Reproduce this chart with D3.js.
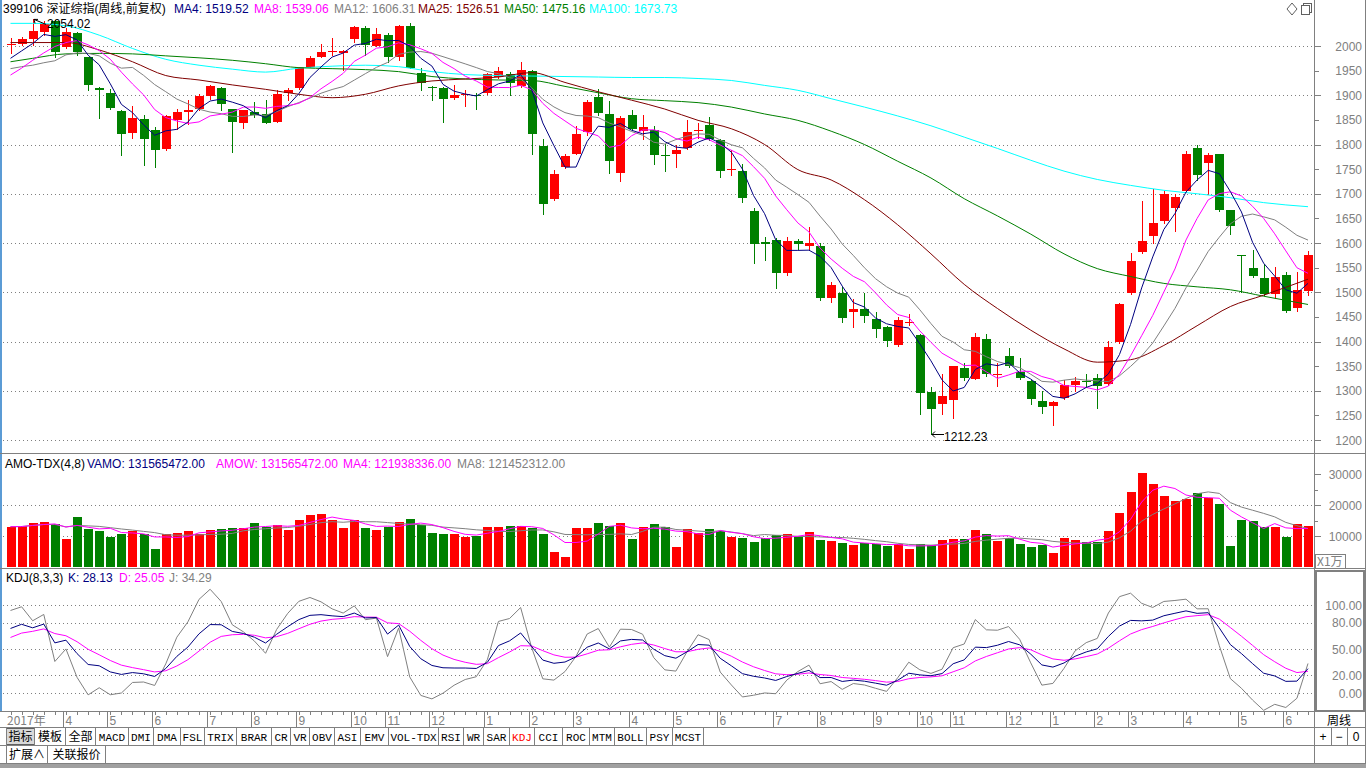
<!DOCTYPE html>
<html><head><meta charset="utf-8">
<script src="https://cdn.jsdelivr.net/npm/d3@7"></script>
<style>
body{margin:0;background:#fff;overflow:hidden}
svg{display:block}
text{font-family:'Liberation Sans',Arial,'Noto Sans CJK SC',sans-serif;font-size:12px}
.cjk{font-family:'Noto Sans CJK SC','Liberation Sans',sans-serif}
.mono{font-family:'Liberation Mono','DejaVu Sans Mono',monospace;font-size:11px}
</style>
</head><body>
<svg id="c" width="1366" height="768"></svg>
<script>
// ---------------- DATA (weekly, 399106 深证综指) ----------------
const opens=[2003,2005,2014,2028,2050,1997,2026,1977,1915,1904,
1868,1823,1851,1829,1791,1849,1866,1872,1899,1915,
1872,1844,1867,1861,1846,1905,1915,1957,1978,1988,
1986,2014,2037,2001,2023,1978,2041,1945,1917,1915,
1895,1900,1901,1905,1937,1944,1918,1949,1797,1689,
1754,1781,1825,1896,1861,1742,1859,1827,1829,1778,
1780,1793,1828,1839,1809,1749,1747,1665,1602,1606,
1540,1604,1594,1594,1488,1498,1460,1465,1445,1429,
1393,1437,1413,1297,1273,1281,1347,1324,1406,1334,
1370,1339,1320,1279,1269,1286,1311,1320,1325,1314,
1398,1498,1581,1615,1645,1672,1706,1793,1762,1780,
1666,1575,1550,1529,1497,1535,1468,1503];
const highs=[2016,2018,2054.02,2050,2052,2036,2028,1978,1916,1912,
1870,1879,1859,1836,1859,1872,1891,1903,1920,1917,
1873,1871,1886,1890,1910,1914,1958,1979,2004,2016,
1992,2041,2040,2037,2026,2043,2046,1955,1919,1917,
1920,1910,1904,1945,1958,1948,1968,1952,1812,1749,
1780,1837,1890,1912,1888,1857,1870,1859,1837,1802,
1798,1849,1844,1856,1811,1788,1761,1672,1612,1610,
1612,1609,1632,1600,1520,1510,1487,1498,1460,1432,
1450,1455,1415,1307,1333,1350,1357,1418,1415,1357,
1387,1367,1322,1299,1280,1321,1328,1333,1333,1402,
1478,1580,1685,1710,1706,1700,1786,1800,1782,1781,
1668,1576,1586,1557,1552,1542,1542,1583];
const lows=[1986,2002,2003,2022,1977,1995,1982,1910,1854,1873,
1779,1813,1758,1754,1789,1832,1842,1871,1893,1871,
1785,1834,1856,1843,1845,1890,1913,1957,1977,1981,
1952,2009,1982,1999,1968,1971,1956,1910,1890,1845,
1893,1878,1872,1903,1935,1900,1917,1780,1658,1687,
1752,1780,1820,1860,1742,1725,1830,1812,1760,1747,
1754,1790,1813,1810,1734,1738,1684,1559,1565,1509,
1535,1588,1585,1485,1480,1440,1430,1440,1410,1391,
1390,1434,1253,1212.23,1253,1244,1321,1323,1330,1309,
1348,1324,1273,1255,1231,1284,1299,1307,1265,1312,
1396,1496,1579,1601,1640,1624,1704,1727,1700,1664,
1618,1500,1530,1494,1489,1459,1461,1495];
const closes=[2004,2014,2031,2045,1988,2028,1988,1921,1910,1874,
1821,1854,1811,1789,1857,1866,1870,1899,1918,1882,
1845,1870,1859,1844,1902,1910,1957,1975,1988,1990,
1990,2039,2002,2024,1978,2041,1956,1925,1915,1892,
1901,1902,1899,1943,1949,1924,1951,1821,1679,1740,
1776,1822,1887,1864,1766,1854,1832,1835,1779,1777,
1788,1825,1829,1812,1746,1751,1691,1598,1598,1539,
1605,1598,1600,1488,1514,1448,1466,1452,1425,1401,
1444,1440,1296,1263,1289,1350,1325,1409,1335,1335,
1350,1326,1284,1267,1277,1311,1320,1319,1309,1389,
1477,1564,1605,1641,1700,1693,1780,1739,1778,1666,
1635,1573,1532,1496,1530,1462,1504,1576];
// turnover, unit: 万 (x10000)
const volumes=[13000,13100,14100,14600,13800,9030,16200,12260,11700,9780,
10750,11700,10540,5800,10750,11000,11700,10650,11930,12260,
12580,12580,14100,13000,13550,11930,15160,16900,17200,15160,
12580,15160,12690,11930,13000,14630,15480,13550,11080,10650,
10650,9780,10110,13000,13000,13200,13200,12580,10750,4940,
3330,12580,12580,14100,13200,14100,9030,13000,13880,13000,
6450,12250,11080,12250,11600,9780,9460,8170,9240,10320,
10640,9570,11400,8710,8390,7850,7100,7640,7420,6780,
7310,5810,7310,6990,8710,9030,8920,11930,10640,8390,
9460,7420,6560,7100,4620,9460,8710,8170,8170,11600,
17530,24200,30430,26880,22800,21180,22040,23970,22260,20430,
6670,15270,14730,13000,13000,9780,13760,13157];

// values of the short MAs before enough weeks are on screen
const ma4Lead=[1975,1990,2005];
const ma8Lead=[1941,1955,1971,1986,1999,2007,2011];
const ma12Lead=[1954,1958,1961,1966,1970,1982,1986,1985,1980,1965,1955];
// long MAs at sample weeks
const maIdx=[0,2,5,8,11,14,17,20,23,26,29,32,35,38,41,44,47,50,53,56,59,62,65,68,71,74,77,80,83,86,89,92,95,98,101,104,107,110,113,117];
const ma25Vals=[2007,2007,2007,1992,1968,1940,1931,1921,1912,1902,1895,1902,1919,1929,1933,1937,1946,1926,1907,1890,1872,1849,1832,1800,1749,1728,1688,1637,1578,1516,1467,1423,1385,1358,1363,1392,1432,1471,1494,1526.51];
const ma50Vals=[1968,1975,1984,1985,1984,1980,1976,1971,1964,1956,1954,1952,1948,1938,1933,1931,1930,1918,1905,1893,1889,1885,1876,1862,1849,1827,1800,1766,1732,1690,1655,1618,1578,1548,1532,1518,1511,1505,1492,1475.16];
const ma100Vals=[2046,2046,2041,2022,1995,1973,1961,1953,1947,1955,1959,1961,1958,1948,1942,1940,1939,1938,1937,1936,1936,1934,1930,1920,1910,1893,1876,1858,1838,1815,1792,1768,1746,1729,1717,1707,1700,1692,1682,1673.73];
const kdjSeed=[80,58];

// axis / labels
const priceTicks=[1200,1250,1300,1350,1400,1450,1500,1550,1600,1650,1700,1750,1800,1850,1900,1950,2000];
const volTicks=[10000,20000,30000];
const kdjTicks=[0,20,50,80,100];
const monthStart=[5,9,13,18,22,26,31,34,38,43,47,51,56,60,64,69,73,78,82,85,90,94,98,101,106,111,115];
const monthLabels=['4','5','6','7','8','9','10','11','12','1','2','3','4','5','6','7','8','9','10','11','12','1','2','3','4','5','6'];
const titleParts=[['399106 深证综指(周线,前复权)','#000000',3],['MA4: 1519.52','#000080',174],['MA8: 1539.06','#FF00FF',254],['MA12: 1606.31','#808080',334],['MA25: 1526.51','#800000',418],['MA50: 1475.16','#008000',504],['MA100: 1673.73','#00FFFF',589]];
const volParts=[['AMO-TDX(4,8)','#000000',5],['VAMO: 131565472.00','#000080',87],['AMOW: 131565472.00','#FF00FF',216],['MA4: 121938336.00','#FF00FF',343],['MA8: 121452312.00','#808080',457]];
const kdjParts=[['KDJ(8,3,3)','#000000',6],['K: 28.13','#000080',68],['D: 25.05','#FF00FF',119],['J: 34.29','#808080',169]];
const tabLabels=['指标','模板','全部','MACD','DMI','DMA','FSL','TRIX','BRAR','CR','VR','OBV','ASI','EMV','VOL-TDX','RSI','WR','SAR','KDJ','CCI','ROC','MTM','BOLL','PSY','MCST'];
const tabEdges=[6,34,65,95,128,153,180,204,236,271,290,309,334,360,388,438,463,483,509,534,562,589,614,646,672,703];
const tab2Labels=['扩展∧','关联报价'];
const tab2Edges=[6,47,105];

// ---------------- DRAW ----------------
const N=closes.length;
const svg=d3.select('#c');
const G='#808080';
const x=d3.scaleLinear().domain([0,N-1]).range([10.5,1308]);
const yP=d3.scaleLinear().domain([1200,2000]).range([440,46]);
const yV=d3.scaleLinear().domain([0,30000]).range([567,474]);
const yK=d3.scaleLinear().domain([0,100]).range([693,605]);
const AX=1314.5;

const defs=svg.append('defs');
function clip(id,x0,y0,w,h){defs.append('clipPath').attr('id',id).append('rect').attr('x',x0).attr('y',y0).attr('width',w).attr('height',h);}
clip('cm',3,16,1311,437);clip('cv',3,470,1311,98);clip('ck',3,586,1311,125);

// frame lines
const fr=svg.append('g').attr('shape-rendering','crispEdges');
fr.append('rect').attr('x',0).attr('y',0).attr('width',2).attr('height',711).attr('fill','#5b9bd5');
[453.5,568.5,711.5,727.5,745.5].forEach(yy=>fr.append('line').attr('x1',0).attr('x2',1366).attr('y1',yy).attr('y2',yy).attr('stroke',G));
fr.append('line').attr('x1',AX).attr('x2',AX).attr('y1',0).attr('y2',764).attr('stroke',G);
fr.append('line').attr('x1',1365.5).attr('x2',1365.5).attr('y1',0).attr('y2',764).attr('stroke',G);
fr.append('rect').attr('x',0).attr('y',764).attr('width',1366).attr('height',4).attr('fill','#a0a0a0');

// grids
function dots(g,yy){g.append('line').attr('x1',3).attr('x2',1313).attr('y1',Math.round(yy)+0.5).attr('y2',Math.round(yy)+0.5).attr('stroke',G).attr('stroke-dasharray','1,3');}
const grid=svg.append('g').attr('shape-rendering','crispEdges');
priceTicks.filter(t=>t%100===0).forEach(t=>dots(grid,yP(t)));
volTicks.filter(t=>t<30000).forEach(t=>dots(grid,yV(t)));
kdjTicks.forEach(t=>dots(grid,yK(t)));

// right axes
const ax=svg.append('g');
function tick(yy,len){ax.append('line').attr('x1',AX).attr('x2',AX+len).attr('y1',Math.round(yy)+0.5).attr('y2',Math.round(yy)+0.5).attr('stroke',G).attr('shape-rendering','crispEdges');}
priceTicks.forEach(t=>{tick(yP(t),t%100===0?6:4);ax.append('text').attr('x',1362).attr('y',yP(t)+4.5).attr('text-anchor','end').attr('fill',G).text(t);});
[15000,25000].forEach(t=>tick(yV(t),3));
volTicks.forEach(t=>{tick(yV(t),6);ax.append('text').attr('x',1362).attr('y',yV(t)+4.5).attr('text-anchor','end').attr('fill',G).text(t);});
ax.append('rect').attr('x',1315.5).attr('y',554.5).attr('width',30).attr('height',14).attr('fill','#fff').attr('stroke',G).attr('shape-rendering','crispEdges');
ax.append('text').attr('class','cjk').attr('x',1317).attr('y',566).attr('fill',G).text('X1万');
ax.append('rect').attr('x',1315.5).attr('y',570.5).attr('width',48).attr('height',140).attr('fill','none').attr('stroke',G).attr('stroke-width',2).attr('shape-rendering','crispEdges');
kdjTicks.forEach(t=>{ax.append('text').attr('x',1362).attr('y',yK(t)+4.5).attr('text-anchor','end').attr('fill',G).text(t.toFixed(2));});

// headers
function header(parts,yy){const g=svg.append('g');parts.forEach(p=>g.append('text').attr('x',p[2]).attr('y',yy).attr('fill',p[1]).text(p[0]));}
header(titleParts,13);header(volParts,468);header(kdjParts,582);
// top-right icons
svg.append('path').attr('d','M1292,3 L1297,9 L1292,15 L1287,9 Z').attr('fill','none').attr('stroke','#606060');
svg.append('rect').attr('x',1301.5).attr('y',5.5).attr('width',8).attr('height',9).attr('fill','none').attr('stroke','#606060').attr('shape-rendering','crispEdges');
svg.append('path').attr('d','M1303.5,5.5 V3.5 H1311.5 V12.5 H1309.5').attr('fill','none').attr('stroke','#606060').attr('shape-rendering','crispEdges');

// candles
const gc=svg.append('g').attr('clip-path','url(#cm)').attr('shape-rendering','crispEdges');
const idx=d3.range(N);
const colOf=i=>closes[i]>=opens[i]?'#FF0000':'#008000';
gc.selectAll('line.w').data(idx).join('line').attr('class','w')
 .attr('x1',i=>Math.round(x(i))+0.5).attr('x2',i=>Math.round(x(i))+0.5)
 .attr('y1',i=>Math.round(yP(highs[i]))).attr('y2',i=>Math.round(yP(lows[i]))+1).attr('stroke',colOf);
gc.selectAll('rect.b').data(idx).join('rect').attr('class','b')
 .attr('x',i=>Math.round(x(i))-4).attr('width',9)
 .attr('y',i=>Math.round(yP(Math.max(opens[i],closes[i]))))
 .attr('height',i=>Math.max(1,Math.round(yP(Math.min(opens[i],closes[i])))-Math.round(yP(Math.max(opens[i],closes[i])))))
 .attr('fill',colOf);

// moving averages
function movAvg(arr,n,lead){return arr.map((v,i)=>i<n-1?(lead?lead[i]:d3.mean(arr.slice(0,i+1))):d3.mean(arr.slice(i-n+1,i+1)));}
const gm=svg.append('g').attr('clip-path','url(#cm)').attr('fill','none');
const lineI=d3.line().x((d,i)=>x(i)).y(d=>yP(d));
const lineS=d3.line().x(d=>x(d[0])).y(d=>yP(d[1])).curve(d3.curveMonotoneX);
gm.append('path').attr('d',lineS(maIdx.map((k,j)=>[k,ma100Vals[j]]))).attr('stroke','#00FFFF');
gm.append('path').attr('d',lineS(maIdx.map((k,j)=>[k,ma50Vals[j]]))).attr('stroke','#008000');
gm.append('path').attr('d',lineS(maIdx.map((k,j)=>[k,ma25Vals[j]]))).attr('stroke','#800000');
gm.append('path').attr('d',lineI(movAvg(closes,12,ma12Lead))).attr('stroke','#808080');
gm.append('path').attr('d',lineI(movAvg(closes,8,ma8Lead))).attr('stroke','#FF00FF');
gm.append('path').attr('d',lineI(movAvg(closes,4,ma4Lead))).attr('stroke','#000080');

// extreme labels
const hi=d3.maxIndex(highs), lo=d3.minIndex(lows);
const ann=svg.append('g');
const hx=Math.round(x(hi))+1, hy=yP(highs[hi]);
ann.append('path').attr('d',`M${hx+12},${hy+5} L${hx},${hy} M${hx},${hy} l4,0 M${hx},${hy} l1,4`).attr('stroke','#000').attr('fill','none');
ann.append('text').attr('x',hx+13).attr('y',hy+9).attr('fill','#000').text(highs[hi].toFixed(2));
const lx=Math.round(x(lo))+1, ly=Math.round(yP(lows[lo]))+0.5;
ann.append('path').attr('d',`M${lx},${ly} H${lx+12} M${lx},${ly} l3,-3 M${lx},${ly} l3,3`).attr('stroke','#000').attr('fill','none');
ann.append('text').attr('x',lx+12).attr('y',ly+6).attr('fill','#000').text(lows[lo].toFixed(2));

// volume
const gv=svg.append('g').attr('clip-path','url(#cv)').attr('shape-rendering','crispEdges');
gv.selectAll('rect').data(idx).join('rect')
 .attr('x',i=>Math.round(x(i))-4).attr('width',9)
 .attr('y',i=>Math.round(yV(volumes[i]))).attr('height',i=>567-Math.round(yV(volumes[i]))).attr('fill',colOf);
const lineV=d3.line().x((d,i)=>x(i)).y(d=>yV(d));
const gvl=svg.append('g').attr('clip-path','url(#cv)').attr('fill','none');
gvl.append('path').attr('d',lineV(movAvg(volumes,8))).attr('stroke','#808080');
gvl.append('path').attr('d',lineV(movAvg(volumes,4))).attr('stroke','#FF00FF');

// KDJ(8,3,3)
let K=kdjSeed[0],D=kdjSeed[1];const Ks=[],Ds=[],Js=[];
idx.forEach(i=>{const s=Math.max(0,i-7);const h=d3.max(highs.slice(s,i+1)),l=d3.min(lows.slice(s,i+1));
 const rsv=h===l?50:(closes[i]-l)/(h-l)*100;K=(2*K+rsv)/3;D=(2*D+K)/3;Ks.push(K);Ds.push(D);Js.push(3*K-2*D);});
const lineK=d3.line().x((d,i)=>x(i)).y(d=>yK(d));
const gk=svg.append('g').attr('clip-path','url(#ck)').attr('fill','none');
gk.append('path').attr('d',lineK(Js)).attr('stroke','#808080');
gk.append('path').attr('d',lineK(Ds)).attr('stroke','#FF00FF');
gk.append('path').attr('d',lineK(Ks)).attr('stroke','#000080');

// x axis row
const gx=svg.append('g');
idx.forEach(i=>gx.append('line').attr('x1',Math.round(x(i))+0.5).attr('x2',Math.round(x(i))+0.5).attr('y1',712).attr('y2',715).attr('stroke',G).attr('shape-rendering','crispEdges'));
gx.append('text').attr('class','cjk').attr('x',7).attr('y',725).attr('fill',G).text('2017年');
monthStart.forEach((k,j)=>{const sx=Math.round(x(k))-2.5;
 gx.append('line').attr('x1',sx).attr('x2',sx).attr('y1',712).attr('y2',727).attr('stroke',G).attr('shape-rendering','crispEdges');
 gx.append('text').attr('x',sx+2).attr('y',725).attr('fill',G).text(monthLabels[j]);});
gx.append('text').attr('class','cjk').attr('x',1327).attr('y',725).attr('fill','#000').text('周线');

// tabs
const gt=svg.append('g');
gt.append('rect').attr('x',tabEdges[0]+0.5).attr('y',728.5).attr('width',tabEdges[1]-tabEdges[0]).attr('height',16).attr('fill','#d9d9d9').attr('stroke','#606060').attr('shape-rendering','crispEdges');
tabEdges.forEach(e=>gt.append('line').attr('x1',e+0.5).attr('x2',e+0.5).attr('y1',728).attr('y2',745).attr('stroke',G).attr('shape-rendering','crispEdges'));
tabLabels.forEach((t,j)=>{const cx=(tabEdges[j]+tabEdges[j+1])/2+0.5;const cj=/[\u4e00-\u9fff]/.test(t);
 gt.append('text').attr('class',cj?'cjk':'mono').attr('x',cx).attr('y',741).attr('text-anchor','middle').attr('fill',t==='KDJ'?'#FF0000':'#000').text(t);});
tab2Edges.forEach(e=>gt.append('line').attr('x1',e+0.5).attr('x2',e+0.5).attr('y1',746).attr('y2',763).attr('stroke',G).attr('shape-rendering','crispEdges'));
tab2Labels.forEach((t,j)=>{const cx=(tab2Edges[j]+tab2Edges[j+1])/2+0.5;
 gt.append('text').attr('class','cjk').attr('x',cx).attr('y',759).attr('text-anchor','middle').attr('fill','#000').text(t);});
gt.append('line').attr('x1',0).attr('x2',1366).attr('y1',763.5).attr('y2',763.5).attr('stroke',G).attr('shape-rendering','crispEdges');
// +/-/0 buttons
[1331.5,1347.5].forEach(e=>gt.append('line').attr('x1',e).attr('x2',e).attr('y1',728).attr('y2',745).attr('stroke',G).attr('shape-rendering','crispEdges'));
[['+',1323],['−',1339],['0',1356]].forEach(b=>gt.append('text').attr('x',b[1]).attr('y',741).attr('text-anchor','middle').attr('fill','#000').text(b[0]));
</script>
</body></html>
